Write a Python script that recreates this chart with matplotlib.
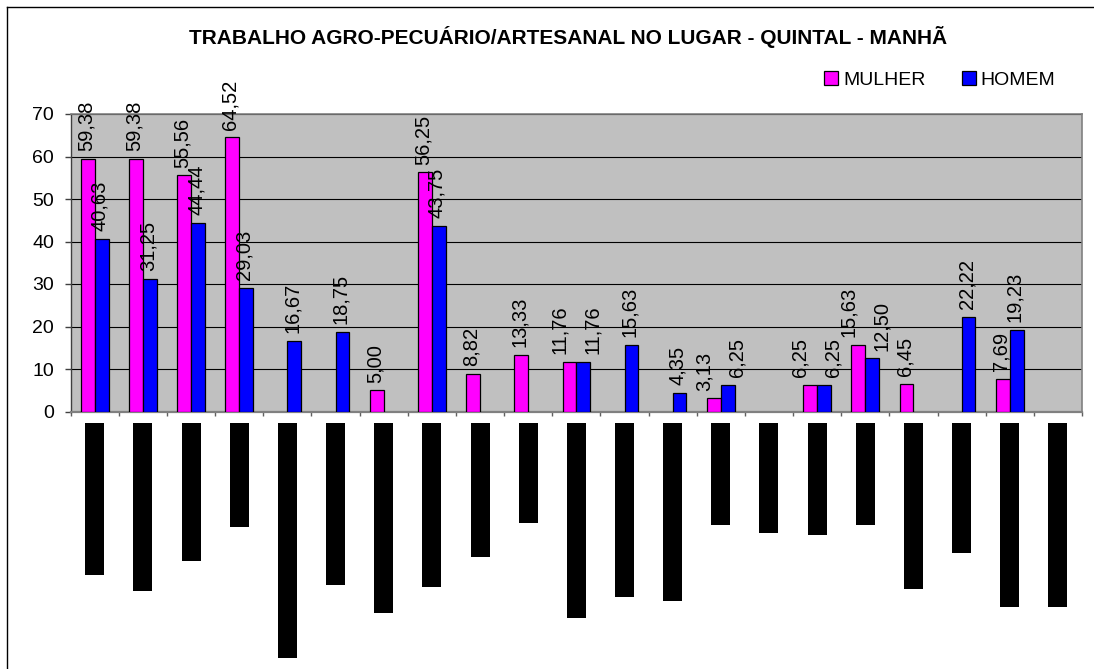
import numpy as np
import matplotlib
matplotlib.use("Agg")
import matplotlib.pyplot as plt
from matplotlib.lines import Line2D

plt.rcParams['font.family'] = ['Liberation Sans', 'DejaVu Sans']

# ---------------- data ----------------
title = "TRABALHO AGRO-PECUÁRIO/ARTESANAL NO LUGAR - QUINTAL - MANHÃ"
series_names = ["MULHER", "HOMEM"]
n_categories = 21
mulher = [59.38, 59.38, 55.56, 64.52, np.nan, np.nan, 5.00, 56.25, 8.82, 13.33,
          11.76, np.nan, np.nan, 3.13, np.nan, 6.25, 15.63, 6.45, np.nan, 7.69, np.nan]
homem = [40.63, 31.25, 44.44, 29.03, 16.67, 18.75, np.nan, 43.75, np.nan, np.nan,
         11.76, 15.63, 4.35, 6.25, np.nan, 6.25, 12.50, np.nan, 22.22, 19.23, np.nan]
# category labels appear as solid black blocks; their lengths (relative)
label_block_len = [152, 168, 138, 104, 235, 162, 190, 164, 134, 100,
                   195, 174, 178, 102, 110, 112, 102, 166, 130, 184, 184]
y_ticks = [0, 10, 20, 30, 40, 50, 60, 70]

# ---------------- layout ----------------
W, H = 1094, 669
def fx(px): return px / W
def fy(py): return 1 - py / H

fig = plt.figure(figsize=(W / 100, H / 100), dpi=100)
fig.patch.set_facecolor('white')

left, right, top, bottom = 70.7, 1082.0, 114.0, 411.5
ax = fig.add_axes([fx(left), fy(bottom), fx(right) - fx(left), (bottom - top) / H])
ax.set_facecolor('#C0C0C0')

x = np.arange(n_categories)
w = 0.287
bm = ax.bar(x - w / 2, mulher, w, color='#FF00FF', edgecolor='black', linewidth=0.9,
            label=series_names[0], zorder=3)
bh = ax.bar(x + w / 2, homem, w, color='#0000FF', edgecolor='black', linewidth=0.9,
            label=series_names[1], zorder=3)

def fmt(v):
    return f"{v:.2f}".replace('.', ',')

# value labels (rotated); close pairs are spread apart as in the original
PX = 0.72  # points per pixel at 100 dpi
for i in range(n_categories):
    m, h = mulher[i], homem[i]
    close = (not np.isnan(m)) and (not np.isnan(h)) and abs(m - h) < 5
    for v, xb, dpx_close in ((m, x[i] - w / 2, -10), (h, x[i] + w / 2, 9)):
        if np.isnan(v):
            continue
        dpx = dpx_close if close else -2
        ax.annotate(fmt(v), xy=(xb, v), xytext=(dpx * PX, 5.5),
                    textcoords='offset points', rotation=90, ha='center',
                    va='bottom', fontsize=14.5, zorder=4, annotation_clip=False)

ax.set_xlim(-0.5, n_categories - 0.5)
ax.set_ylim(0, 70)
ax.set_yticks(y_ticks)
ax.yaxis.grid(True, color='black', linewidth=0.8)
ax.set_axisbelow(True)
ax.set_xticks(np.arange(-0.5, n_categories, 1))
ax.set_xticklabels([])
ax.tick_params(axis='x', direction='out', length=3, width=1, color='#606060')
ax.tick_params(axis='y', direction='out', length=4, width=1, color='#404040',
               labelsize=14, pad=8)
for s in ['top', 'right']:
    ax.spines[s].set_color('#808080')
    ax.spines[s].set_linewidth(1.2)
ax.spines['left'].set_color('#404040')
ax.spines['bottom'].set_color('#808080')
ax.spines['left'].set_linewidth(1.0)
ax.spines['bottom'].set_linewidth(1.6)

# black blocks in place of category labels
blk_top = 423
ax2 = fig.add_axes([fx(left), 0, fx(right) - fx(left), (H - blk_top) / H])
ax2.bar(x, label_block_len, 0.395, color='black')
ax2.set_xlim(-0.5, n_categories - 0.5)
ax2.set_ylim(H - blk_top, 0)
ax2.axis('off')

# title
fig.text(fx(568), fy(37), title, ha='center', va='center', fontsize=15,
         fontweight='bold')

# legend
ax.legend(handles=[bm, bh], labels=series_names, loc='center',
          bbox_to_anchor=(fx(940), fy(80)), bbox_transform=fig.transFigure,
          ncol=2, frameon=False, fontsize=14, handlelength=0.7, handleheight=0.7,
          handletextpad=0.25, columnspacing=1.9, borderpad=0, borderaxespad=0)

# chart-area frame (left and top edges visible)
fig.add_artist(Line2D([fx(7), fx(7)], [fy(7), 0], transform=fig.transFigure,
                      color='black', linewidth=1.0))
fig.add_artist(Line2D([fx(7), 1], [fy(7), fy(7)], transform=fig.transFigure,
                      color='black', linewidth=1.0))

fig.savefig('out.png', dpi=100)
